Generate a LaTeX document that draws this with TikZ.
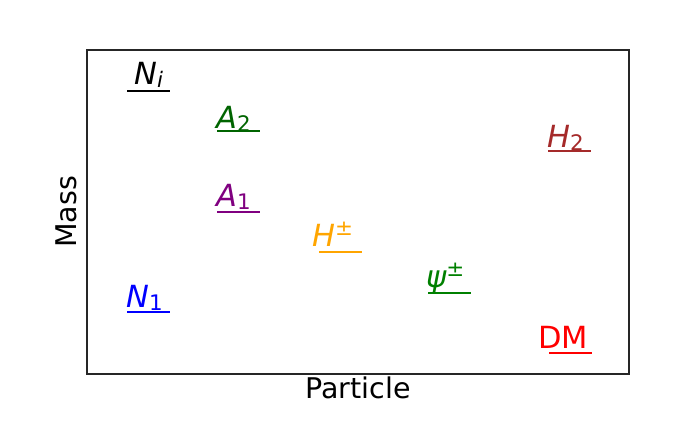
\documentclass[tikz,border=0pt]{standalone}
\usepackage{fontspec}
\setmainfont{DejaVu Sans}
\newfontfamily\dvo{DejaVu Sans Oblique}
\definecolor{cDarkGreen}{HTML}{006400}
\definecolor{cPurple}{HTML}{800080}
\definecolor{cOrange}{HTML}{FFA500}
\definecolor{cGreen}{HTML}{008000}
\definecolor{cBrown}{HTML}{A52A2A}
\newcommand{\mysub}[1]{\raisebox{-3.5pt}{\fontsize{21.4}{24}\selectfont #1}}
\newcommand{\mysup}[1]{\raisebox{11pt}{\fontsize{21.4}{24}\selectfont #1}}
\tikzset{
  lvl/.style={line width=2pt},
  lab/.style={anchor=base west, inner sep=0pt, font=\fontsize{30.5}{36}\selectfont},
  axlab/.style={anchor=base, inner sep=0pt, font=\fontsize{28.5}{33}\selectfont},
}
\begin{document}
\begin{tikzpicture}[x=1pt,y=-1pt]
\useasboundingbox (0,0) rectangle (700,420);
\draw[line width=1.1pt, black!85] (87,50) rectangle (629,374);
% levels
\foreach \n/\xa/\y/\c in {Ni/127/90.5/black, Atwo/217/130.5/cDarkGreen, Aone/217/211.5/cPurple, Hpm/319/252/cOrange, None/127/312/blue, Psi/428/292.5/cGreen, DM/549/353/red, Htwo/548/151/cBrown}{
  \coordinate (\n-l) at (\xa,\y);
  \coordinate (\n-r) at (\xa+42.5,\y);
  \draw[lvl, \c] (\n-l) -- (\n-r);
}
\node[lab] (tNi) at (134,84) {{\dvo N}\mysub{\dvo i}};
\node[lab, cDarkGreen] (tAtwo) at (216,128) {{\dvo A}\mysub{2}};
\node[lab, cPurple] (tAone) at (216,206) {{\dvo A}\mysub{1}};
\node[lab, cOrange] (tHpm) at (312,246) {{\dvo H}\mysup{±}};
\node[lab, blue] (tNone) at (126,307) {{\dvo N}\mysub{1}};
\node[lab, cGreen] (tPsi) at (426,287) {{\dvo ψ}\mysup{±}};
\node[lab, red] (tDM) at (538,348) {DM};
\node[lab, cBrown] (tHtwo) at (547,147) {{\dvo H}\mysub{2}};
\node[axlab] (xl) at (358,398) {Particle};
\node[axlab, rotate=90] (yl) at (76,212) {Mass};
\end{tikzpicture}
\end{document}
